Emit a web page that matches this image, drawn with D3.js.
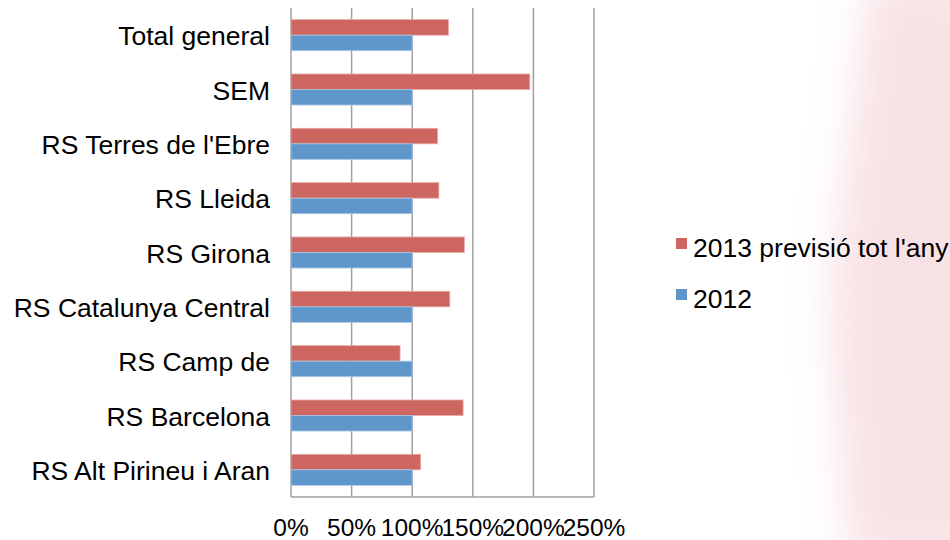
<!DOCTYPE html>
<html>
<head>
<meta charset="utf-8">
<script src="https://cdn.jsdelivr.net/npm/d3@7"></script>
<style>
  body { margin: 0; background: #fff; }
  svg { display: block; font-family: "Liberation Sans", Arial, sans-serif; }
</style>
</head>
<body>
<svg width="950" height="540"></svg>
<script>
// categories top to bottom
const categories = ["Total general", "SEM", "RS Terres de l'Ebre", "RS Lleida", "RS Girona",
  "RS Catalunya Central", "RS Camp de", "RS Barcelona", "RS Alt Pirineu i Aran"]
const values2013 = [130, 197, 121, 122, 143, 131, 90, 142, 107]
const values2012 = [100, 100, 100, 100, 100, 100, 100, 100, 100]
const ticks = [0, 50, 100, 150, 200, 250]
const seriesNames = ["2013 previsió tot l'any", "2012"]

const colorRed = "#cd6660"
const colorBlue = "#6097cb"

const svg = d3.select("svg")

// faint background wash on the right
const defs = svg.append("defs")
defs.append("filter").attr("id", "blur")
  .attr("x", "-50%").attr("y", "-50%").attr("width", "200%").attr("height", "200%")
  .append("feGaussianBlur").attr("stdDeviation", 20)
svg.append("path")
  .attr("d", "M870,-20 L980,-20 L980,560 L850,560 L830,300 Z")
  .attr("fill", "#f2c4ca")
  .attr("opacity", 0.5)
  .attr("filter", "url(#blur)")

const x = d3.scaleLinear()
  .domain([0, 250])
  .range([291, 594])

const y = d3.scaleBand()
  .domain(categories)
  .range([8, 497])

const inner = d3.scaleBand()
  .domain(["2013", "2012"])
  .range([0, y.bandwidth()])
  .paddingInner(0)
  .paddingOuter(0.75)

// gridlines
svg.append("g")
  .selectAll("line")
  .data(ticks)
  .join("line")
  .attr("x1", d => x(d)).attr("x2", d => x(d))
  .attr("y1", 8).attr("y2", 497)
  .attr("stroke", "#a0a0a0")
  .attr("stroke-width", 1.5)

svg.append("line")
  .attr("x1", x(0)).attr("x2", x(250))
  .attr("y1", 497).attr("y2", 497)
  .attr("stroke", "#a0a0a0")
  .attr("stroke-width", 1.5)

const rows = categories.map((c, i) => ({ cat: c, v2013: values2013[i], v2012: values2012[i] }))

const row = svg.append("g")
  .selectAll("g")
  .data(rows)
  .join("g")
  .attr("transform", d => `translate(0,${y(d.cat)})`)

row.append("rect")
  .attr("x", x(0))
  .attr("y", inner("2013"))
  .attr("width", d => x(d.v2013) - x(0))
  .attr("height", inner.bandwidth())
  .attr("fill", colorRed)
  .attr("stroke", "#e8aaa6")
  .attr("stroke-width", 0.8)

row.append("rect")
  .attr("x", x(0))
  .attr("y", inner("2012"))
  .attr("width", d => x(d.v2012) - x(0))
  .attr("height", inner.bandwidth())
  .attr("fill", colorBlue)
  .attr("stroke", "#a9c6e6")
  .attr("stroke-width", 0.8)

// category labels
svg.append("g")
  .selectAll("text")
  .data(categories)
  .join("text")
  .attr("x", 270)
  .attr("y", d => y(d) + y.bandwidth() / 2 + 10)
  .attr("text-anchor", "end")
  .attr("font-size", "26.5px")
  .attr("fill", "#000")
  .text(d => d)

// tick labels
svg.append("g")
  .selectAll("text")
  .data(ticks)
  .join("text")
  .attr("x", d => x(d))
  .attr("y", 536)
  .attr("text-anchor", "middle")
  .attr("font-size", "24.5px")
  .attr("fill", "#000")
  .text(d => d + "%")

// legend
const legend = svg.append("g")
  .selectAll("g")
  .data(seriesNames)
  .join("g")
  .attr("transform", (d, i) => `translate(676,${238 + i * 51})`)

legend.append("rect")
  .attr("width", 11).attr("height", 11)
  .attr("fill", (d, i) => i === 0 ? colorRed : colorBlue)

legend.append("text")
  .attr("x", 17)
  .attr("y", 18.5)
  .attr("font-size", "26.5px")
  .attr("fill", "#000")
  .text(d => d)
</script>
</body>
</html>
